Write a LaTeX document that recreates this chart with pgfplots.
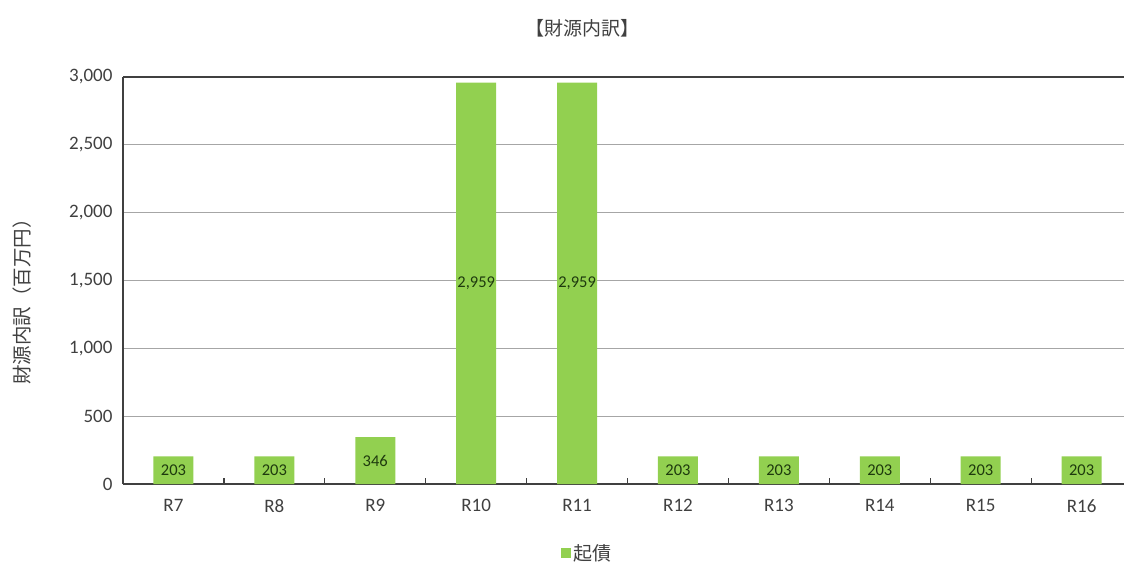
\documentclass[border=0pt]{standalone}
\usepackage{fontspec}
\setmainfont{Carlito}
\newfontfamily\jp{Noto Sans CJK JP}
\usepackage{pgfplots}
\pgfplotsset{compat=1.18}
\definecolor{barg}{HTML}{92D050}
\definecolor{txt}{HTML}{404040}
\definecolor{gridc}{HTML}{A6A6A6}
\definecolor{lbl}{HTML}{1E3A0E}
\begin{document}
\begin{tikzpicture}
\useasboundingbox (0pt,0pt) rectangle (1124pt,563pt);
\begin{axis}[
  at={(123pt,79pt)}, anchor=south west,
  scale only axis, width=1001pt, height=407pt,
  xmin=-0.5, xmax=9.42, ymin=0, ymax=3000,
  xtick={0,...,9},
  xticklabels={R7,R8,R9,R10,R11,R12,R13,R14,R15,R16},
  major tick length=0pt,
  extra x ticks={0.5,1.5,...,8.5},
  extra x tick labels={},
  extra x tick style={major tick length=6pt, tick align=inside, grid=none,
    xtick style={draw=txt, line width=1.2pt}},
  ytick={0,500,...,3000},
  /pgf/number format/1000 sep={,},
  /pgf/number format/assume math mode=true,
  ymajorgrids, grid style={gridc, line width=1.3pt},
  axis x line*=bottom, axis y line*=left,
  axis line style={txt, line width=1.6pt, -},
  tick label style={font=\fontsize{19}{21}\selectfont, text=txt},
  xticklabel style={yshift=-12pt},
  yticklabel style={xshift=-7pt},
  ybar, bar width=40pt,
  legend style={at={(0.464,-0.17)}, anchor=center, draw=none, fill=none,
    font=\jp\fontsize{19}{21}\selectfont, text=txt},
  clip=false,
]
\addplot[fill=barg, draw=none,
  legend image code/.code={\fill[barg] (0pt,-5pt) rectangle (10pt,5pt);},
  visualization depends on={rawy \as \ry},
  nodes near coords,
  every node near coord/.style={yshift={-\ry/3000*203.5*1pt}, font=\fontsize{16.5}{18}\selectfont, text=lbl, anchor=center}
] coordinates {
  (0,203) (1,203) (2,346) (3,2959) (4,2959)
  (5,203) (6,203) (7,203) (8,203) (9,203)
};
\addlegendentry{起債}
\draw[txt, line width=1.6pt] (axis cs:-0.5,3000) -- (axis cs:9.42,3000);
\end{axis}
\node[font=\jp\fontsize{19}{21}\selectfont, text=txt] at (582pt,535pt) {【財源内訳】};
\node[font=\jp\fontsize{19.5}{21}\selectfont, text=txt, rotate=90] at (22pt,266pt) {財源内訳（百万円）};
\end{tikzpicture}
\end{document}
